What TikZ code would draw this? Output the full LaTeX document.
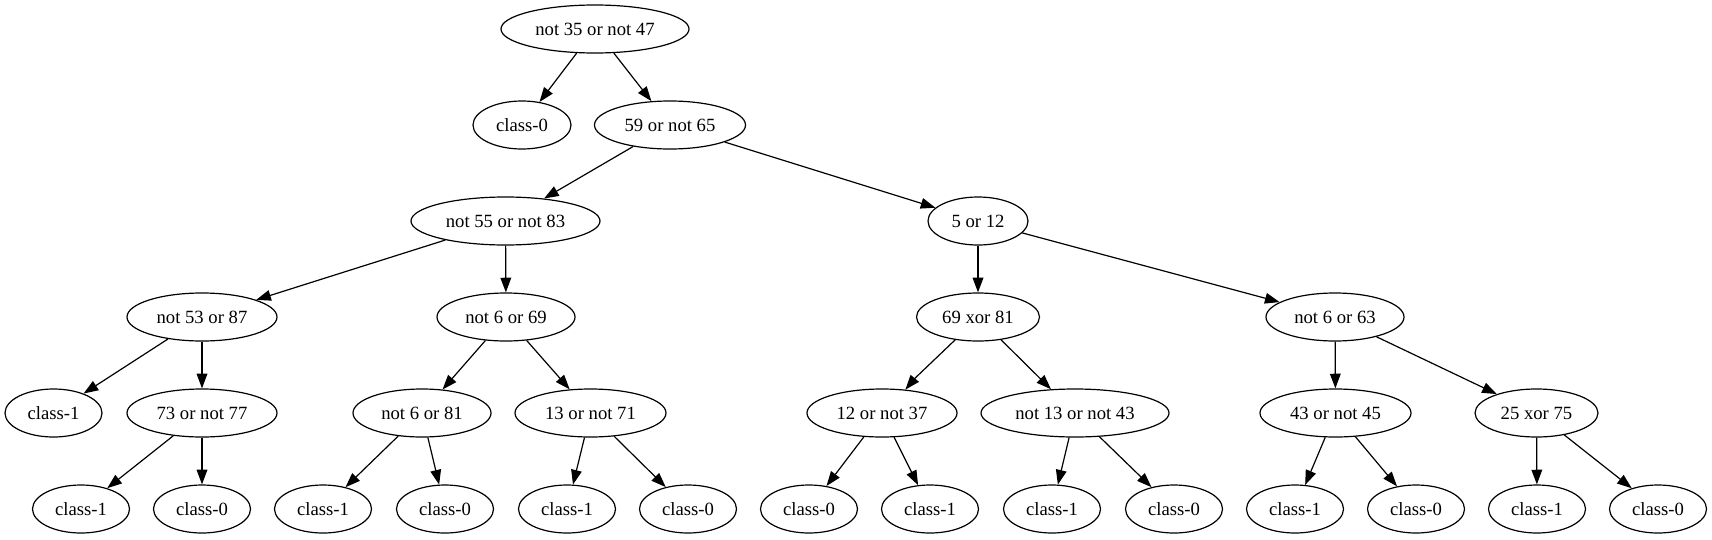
\documentclass[tikz,border=0pt]{standalone}
\usepackage{fontspec}
\setmainfont{Liberation Serif}
\usetikzlibrary{shapes.geometric,arrows.meta}
\tikzset{
  nd/.style={ellipse,draw,line width=0.9pt,inner sep=0pt,minimum height=36pt,
    minimum width=0.75*#1pt,font=\fontsize{14pt}{16pt}\selectfont},
  edge/.style={line width=0.9pt,-{Triangle[length=11pt,width=8pt]}}
}
\begin{document}
\begin{tikzpicture}[x=0.75pt,y=-0.75pt]
\useasboundingbox (0,0) rectangle (1712,539);
% level 0-3
\node[nd=188] (r)   at (595,29)   {not 35 or not 47};
\node[nd=98]  (c0a) at (522,125)  {class-0};
\node[nd=151] (n1)  at (670,125)  {59 or not 65};
\node[nd=189] (n2)  at (505.5,221) {not 55 or not 83};
\node[nd=100] (n3)  at (978,221)  {5 or 12};
\node[nd=150] (n4)  at (202,317)  {not 53 or 87};
\node[nd=138] (n5)  at (506,317)  {not 6 or 69};
\node[nd=123] (n6)  at (978,317)  {69 xor 81};
\node[nd=138] (n7)  at (1335,317) {not 6 or 63};
% level 4
\node[nd=97]  (c1a) at (53.5,413)  {class-1};
\node[nd=150] (n8)  at (202,413)   {73 or not 77};
\node[nd=138] (n9)  at (422,413)   {not 6 or 81};
\node[nd=151] (n10) at (590.5,413) {13 or not 71};
\node[nd=150] (n11) at (882,413)   {12 or not 37};
\node[nd=188] (n12) at (1075,413)  {not 13 or not 43};
\node[nd=151] (n13) at (1335.5,413) {43 or not 45};
\node[nd=123] (n14) at (1536.5,413) {25 xor 75};
% leaves
\node[nd=97] (l1)  at (81,509)   {class-1};
\node[nd=97] (l2)  at (202,509)  {class-0};
\node[nd=97] (l3)  at (323,509)  {class-1};
\node[nd=97] (l4)  at (445,509)  {class-0};
\node[nd=97] (l5)  at (567,509)  {class-1};
\node[nd=97] (l6)  at (688,509)  {class-0};
\node[nd=97] (l7)  at (809,509)  {class-0};
\node[nd=97] (l8)  at (930,509)  {class-1};
\node[nd=97] (l9)  at (1052,509) {class-1};
\node[nd=97] (l10) at (1174,509) {class-0};
\node[nd=97] (l11) at (1295,509) {class-1};
\node[nd=97] (l12) at (1416,509) {class-0};
\node[nd=97] (l13) at (1537,509) {class-1};
\node[nd=97] (l14) at (1658,509) {class-0};
% edges
\draw[edge] (r) -- (c0a);
\draw[edge] (r) -- (n1);
\draw[edge] (n1) -- (n2);
\draw[edge] (n1) -- (n3);
\draw[edge] (n2) -- (n4);
\draw[edge] (n2) -- (n5);
\draw[edge] (n3) -- (n6);
\draw[edge] (n3) -- (n7);
\draw[edge] (n4) -- (c1a);
\draw[edge] (n4) -- (n8);
\draw[edge] (n5) -- (n9);
\draw[edge] (n5) -- (n10);
\draw[edge] (n6) -- (n11);
\draw[edge] (n6) -- (n12);
\draw[edge] (n7) -- (n13);
\draw[edge] (n7) -- (n14);
\draw[edge] (n8) -- (l1);
\draw[edge] (n8) -- (l2);
\draw[edge] (n9) -- (l3);
\draw[edge] (n9) -- (l4);
\draw[edge] (n10) -- (l5);
\draw[edge] (n10) -- (l6);
\draw[edge] (n11) -- (l7);
\draw[edge] (n11) -- (l8);
\draw[edge] (n12) -- (l9);
\draw[edge] (n12) -- (l10);
\draw[edge] (n13) -- (l11);
\draw[edge] (n13) -- (l12);
\draw[edge] (n14) -- (l13);
\draw[edge] (n14) -- (l14);
\end{tikzpicture}
\end{document}
